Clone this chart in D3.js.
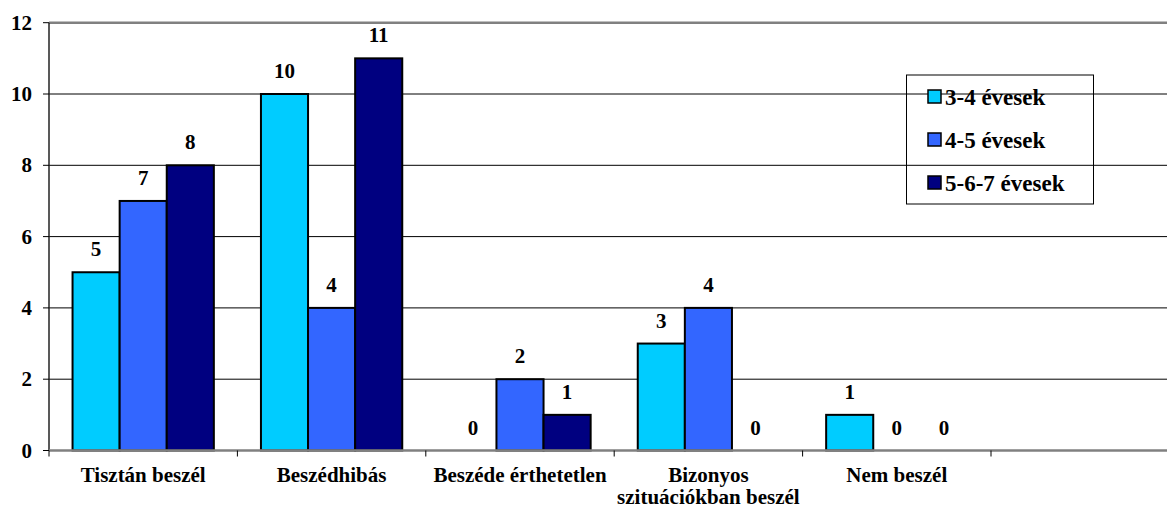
<!DOCTYPE html>
<html>
<head>
<meta charset="utf-8">
<script src="https://cdn.jsdelivr.net/npm/d3@7"></script>
</head>
<body style="margin:0">
<svg width="1167" height="508"></svg>
<script>
// Data
const categories = ["Tisztán beszél", "Beszédhibás", "Beszéde érthetetlen", "Bizonyos\nszituációkban beszél", "Nem beszél"];
const seriesNames = ["3-4 évesek", "4-5 évesek", "5-6-7 évesek"];
const age34 = [5, 10, 0, 3, 1];
const age45 = [7, 4, 2, 4, 0];
const age567 = [8, 11, 1, 0, 0];
const yTicks = [0, 2, 4, 6, 8, 10, 12];

const colors = ["#00ccff", "#3366ff", "#000080"];
const series = [age34, age45, age567];
const serifFont = "Times New Roman, Liberation Serif, Tinos, serif";

const svg = d3.select("svg");

// plot area; an empty sixth slot is kept on the right like in the original
const plotLeft = 49, plotTop = 22.7, plotBottom = 450.5;
const slots = categories.concat([""]);

const x = d3.scaleBand()
    .domain(d3.range(slots.length))
    .range([plotLeft, plotLeft + 188.4 * slots.length])
    .paddingInner(0.25)
    .paddingOuter(0.125);

const xSub = d3.scaleBand()
    .domain(d3.range(series.length))
    .range([0, x.bandwidth()]);

const y = d3.scaleLinear()
    .domain([0, 12])
    .range([plotBottom, plotTop]);

// Gridlines
svg.append("g")
  .selectAll("line")
  .data(yTicks.filter(d => d > 0 && d < 12))
  .join("line")
    .attr("x1", plotLeft)
    .attr("x2", 1167)
    .attr("y1", d => y(d))
    .attr("y2", d => y(d))
    .attr("stroke", "#000")
    .attr("stroke-width", 1);

// top border of plot area
svg.append("line")
    .attr("x1", plotLeft).attr("x2", 1167)
    .attr("y1", y(12)).attr("y2", y(12))
    .attr("stroke", "#808080")
    .attr("stroke-width", 2.5);

// Bars
const bars = svg.append("g");
series.forEach((vals, si) => {
  bars.append("g")
    .selectAll("rect")
    .data(vals.map((v, i) => ({ v, i })).filter(d => d.v > 0))
    .join("rect")
      .attr("x", d => x(d.i) + xSub(si))
      .attr("y", d => y(d.v))
      .attr("width", xSub.bandwidth())
      .attr("height", d => y(0) - y(d.v))
      .attr("fill", colors[si])
      .attr("stroke", "#000")
      .attr("stroke-width", 2);
});

// Value labels
series.forEach((vals, si) => {
  svg.append("g")
    .selectAll("text")
    .data(vals.map((v, i) => ({ v, i })))
    .join("text")
      .attr("x", d => x(d.i) + xSub(si) + xSub.bandwidth() / 2)
      .attr("y", d => y(d.v) - 16)
      .attr("text-anchor", "middle")
      .attr("font-family", serifFont)
      .attr("font-weight", "bold")
      .attr("font-size", 21)
      .text(d => d.v);
});

// Y axis
const yAxis = svg.append("g");
yAxis.append("line")
    .attr("x1", plotLeft).attr("x2", plotLeft)
    .attr("y1", y(12)).attr("y2", y(0))
    .attr("stroke", "#222")
    .attr("stroke-width", 1.5);
yAxis.selectAll("line.tick")
  .data(yTicks)
  .join("line")
    .attr("class", "tick")
    .attr("x1", plotLeft - 6).attr("x2", plotLeft)
    .attr("y1", d => y(d)).attr("y2", d => y(d))
    .attr("stroke", "#000");
yAxis.selectAll("text")
  .data(yTicks)
  .join("text")
    .attr("x", 32)
    .attr("y", d => y(d) + 7)
    .attr("text-anchor", "end")
    .attr("font-family", serifFont)
    .attr("font-weight", "bold")
    .attr("font-size", 21)
    .text(d => d);

// X axis
const xAxis = svg.append("g");
xAxis.append("line")
    .attr("x1", plotLeft).attr("x2", 1167)
    .attr("y1", y(0)).attr("y2", y(0))
    .attr("stroke", "#808080")
    .attr("stroke-width", 2.5);
xAxis.selectAll("line.tick")
  .data(d3.range(slots.length + 1))
  .join("line")
    .attr("class", "tick")
    .attr("x1", d => plotLeft + x.step() * d)
    .attr("x2", d => plotLeft + x.step() * d)
    .attr("y1", y(0)).attr("y2", y(0) + 6)
    .attr("stroke", "#000");

// category labels, one text per line
categories.forEach((c, i) => {
  c.split("\n").forEach((line, li) => {
    xAxis.append("text")
        .attr("x", x(i) + x.bandwidth() / 2)
        .attr("y", 482 + li * 22)
        .attr("text-anchor", "middle")
        .attr("font-family", serifFont)
        .attr("font-weight", "bold")
        .attr("font-size", 21)
        .text(line);
  });
});

// Legend (no fill, gridlines show through)
const legend = svg.append("g");
legend.append("rect")
    .attr("x", 906.5).attr("y", 75)
    .attr("width", 187).attr("height", 129)
    .attr("fill", "none")
    .attr("stroke", "#000")
    .attr("stroke-width", 1);
const item = legend.selectAll("g.item")
  .data(seriesNames)
  .join("g")
    .attr("class", "item")
    .attr("transform", (d, i) => `translate(928,${97 + i * 43})`);
item.append("rect")
    .attr("x", 0).attr("y", -7)
    .attr("width", 13).attr("height", 13)
    .attr("fill", (d, i) => colors[i])
    .attr("stroke", "#000")
    .attr("stroke-width", 1.5);
item.append("text")
    .attr("x", 17)
    .attr("y", 8)
    .attr("font-family", serifFont)
    .attr("font-weight", "bold")
    .attr("font-size", 23)
    .text(d => d);
</script>
</body>
</html>
